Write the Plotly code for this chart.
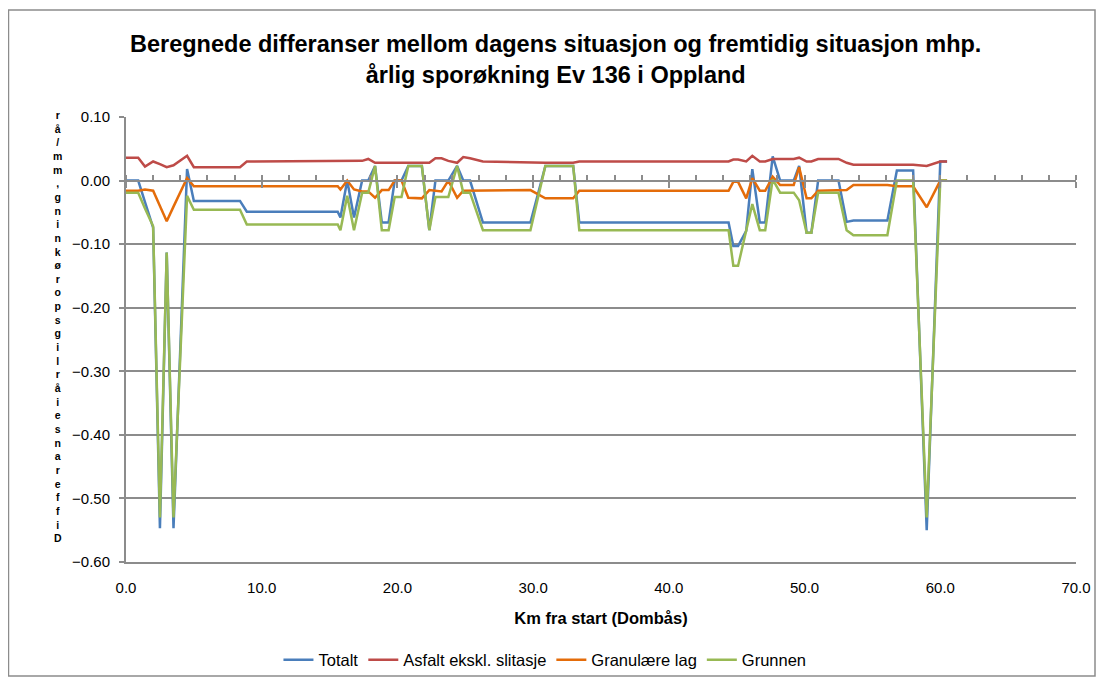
"""Differences in yearly rut growth along Ev 136 (Oppland), today vs. future."""

import plotly.graph_objects as go

km = [0.0, 0.9, 1.4, 2.0, 2.5, 3.0, 3.5, 4.5, 5.0, 8.4, 8.9, 15.6, 15.8, 16.3, 16.8,
      17.4, 17.85, 18.35, 18.85, 19.35, 19.8, 20.3, 20.8, 21.8, 22.35, 22.8, 23.25,
      23.75, 24.4, 24.85, 25.35, 26.3, 29.8, 30.9, 32.95, 33.4, 44.4, 44.75, 45.1,
      45.7, 46.15, 46.7, 47.1, 47.65, 48.2, 49.2, 49.6, 50.15, 50.5, 51.0, 52.5,
      53.1, 53.6, 56.1, 56.8, 58.0, 59.0, 60.0, 60.5]

totalt = [0.0, 0.0, -0.034, -0.074, -0.547, -0.113, -0.547, 0.018, -0.032, -0.032,
          -0.049, -0.049, -0.058, 0.0, -0.058, 0.0, 0.0, 0.023, -0.066, -0.066, 0.0,
          0.0, 0.023, 0.023, -0.078, 0.0, 0.0, 0.0, 0.023, 0.0, 0.0, -0.066, -0.066,
          0.023, 0.023, -0.066, -0.066, -0.103, -0.103, -0.079, 0.018, -0.066, -0.066,
          0.038, 0.0, 0.0, 0.023, -0.082, -0.082, 0.0, 0.0, -0.065, -0.063, -0.063,
          0.016, 0.016, -0.55, 0.030, 0.030]

asfalt = [0.036, 0.036, 0.022, 0.030, 0.026, 0.021, 0.024, 0.039, 0.021, 0.021,
          0.030, 0.030, 0.031, 0.030, 0.031, 0.031, 0.034, 0.028, 0.028, 0.028, 0.028,
          0.028, 0.028, 0.028, 0.028, 0.035, 0.035, 0.031, 0.028, 0.037, 0.035, 0.030,
          0.028, 0.028, 0.028, 0.030, 0.030, 0.033, 0.033, 0.030, 0.039, 0.030, 0.030,
          0.034, 0.034, 0.034, 0.036, 0.030, 0.030, 0.034, 0.034, 0.028, 0.025, 0.025,
          0.025, 0.025, 0.023, 0.030, 0.030]

granulaere = [-0.016, -0.016, -0.014, -0.016, -0.040, -0.064, -0.041, 0.004, -0.009,
              -0.009, -0.009, -0.009, -0.014, 0.0, -0.014, -0.017, -0.017, -0.027,
              -0.015, -0.015, 0.0, 0.0, -0.027, -0.028, -0.015, -0.016, -0.017, 0.0,
              -0.027, -0.016, -0.016, -0.015, -0.015, -0.028, -0.028, -0.016, -0.016,
              -0.002, -0.002, -0.028, 0.004, -0.016, -0.016, 0.006, -0.007, -0.007,
              0.021, -0.028, -0.028, -0.016, -0.016, -0.015, -0.007, -0.007, -0.009,
              -0.009, -0.042, 0.0, 0.0]

grunnen = [-0.019, -0.019, -0.044, -0.072, -0.53, -0.113, -0.53, -0.024, -0.046,
           -0.046, -0.069, -0.069, -0.078, -0.024, -0.078, -0.019, -0.019, 0.023,
           -0.078, -0.078, -0.026, -0.026, 0.023, 0.023, -0.078, -0.026, -0.026,
           -0.026, 0.023, -0.019, -0.019, -0.078, -0.078, 0.023, 0.023, -0.078, -0.078,
           -0.134, -0.134, -0.079, -0.037, -0.078, -0.078, 0.002, -0.019, -0.019,
           -0.031, -0.082, -0.082, -0.019, -0.019, -0.078, -0.086, -0.086, 0.0, 0.0,
           -0.53, 0.0, 0.0]

series = [
    ("Totalt", totalt, "#4A7EBB"),
    ("Asfalt ekskl. slitasje", asfalt, "#BE4B48"),
    ("Granulære lag", granulaere, "#E46C0A"),
    ("Grunnen", grunnen, "#98B954"),
]

title = ("<b>Beregnede differanser mellom dagens situasjon og fremtidig situasjon mhp."
         "<br>årlig sporøkning Ev 136 i Oppland</b>")
y_title = "Differanse i årlig sporøkning, mm/år"

GRID = "#8C8C8C"
FONT = "Liberation Sans, Arial, sans-serif"

fig = go.Figure()
for name, vals, color in series:
    fig.add_trace(go.Scatter(x=km, y=vals, name=name, mode="lines",
                             line=dict(color=color, width=2.5)))

# x axis crosses at y=0 in the original, labels stay at the bottom
y_zero = 0.6 / 0.7

# the page body has an 8px margin, so the figure is 8px smaller each way
fig.update_layout(
    width=1097, height=669,
    margin=dict(l=118, r=29, t=109, b=115, autoexpand=False),
    paper_bgcolor="white", plot_bgcolor="white",
    font=dict(family=FONT, size=15, color="black"),
    xaxis=dict(range=[0, 70], dtick=10, tickformat=".1f", showgrid=False,
               zeroline=False, showline=True, linecolor=GRID, linewidth=2,
               ticks="", ticklabelstandoff=11,
               title=dict(text="<b>Km fra start (Dombås)</b>", standoff=17,
                          font=dict(size=16.5))),
    xaxis2=dict(range=[0, 70], overlaying="x", anchor="free", position=y_zero,
                showline=True, linecolor=GRID, linewidth=2, showticklabels=False,
                showgrid=False, zeroline=False, dtick=10, ticks="outside",
                ticklen=6, tickwidth=2, tickcolor=GRID,
                minor=dict(dtick=2, ticks="inside", ticklen=5, tickwidth=2,
                           tickcolor=GRID)),
    xaxis3=dict(range=[0, 70], overlaying="x", anchor="free", position=y_zero,
                showline=False, showticklabels=False, showgrid=False,
                zeroline=False, dtick=10, ticks="inside", ticklen=6, tickwidth=2,
                tickcolor=GRID),
    yaxis=dict(range=[-0.6, 0.1], dtick=0.1, tickformat=".2f", showgrid=True,
               gridcolor=GRID, gridwidth=2, zeroline=False, showline=True,
               linecolor=GRID, linewidth=2, ticks="outside", ticklen=5,
               tickwidth=2, tickcolor=GRID, ticklabelstandoff=6),
    legend=dict(orientation="h", x=0.441, xanchor="center", y=-0.22,
                yanchor="middle", font=dict(size=16.5), traceorder="normal",
                bgcolor="rgba(0,0,0,0)"),
    showlegend=True,
)

# tie the helper axis to the data so it is drawn
fig.data[3].update(xaxis="x2")

# two-line chart title above the plot area
fig.add_annotation(text=title, xref="paper", yref="paper", x=0.4526, y=1.129,
                   xanchor="center", yanchor="middle", showarrow=False,
                   font=dict(size=23.5, family=FONT, color="black"))

# stacked vertical y-axis title, letters bottom-to-top as in the source
stacked = "<br>".join(reversed([c for c in y_title if c != " "]))
fig.add_annotation(text="<b>" + stacked + "</b>", xref="paper", yref="paper",
                   x=-0.0716, y=0.53, xanchor="center", yanchor="middle",
                   showarrow=False, font=dict(size=10.5, family=FONT))

# outer chart border
fig.add_shape(type="rect", xref="paper", yref="paper", x0=-0.1237, x1=1.02,
              y0=-0.256, y1=1.2404, line=dict(color="#8C8C8C", width=1.5))

fig.write_html("out.html")
